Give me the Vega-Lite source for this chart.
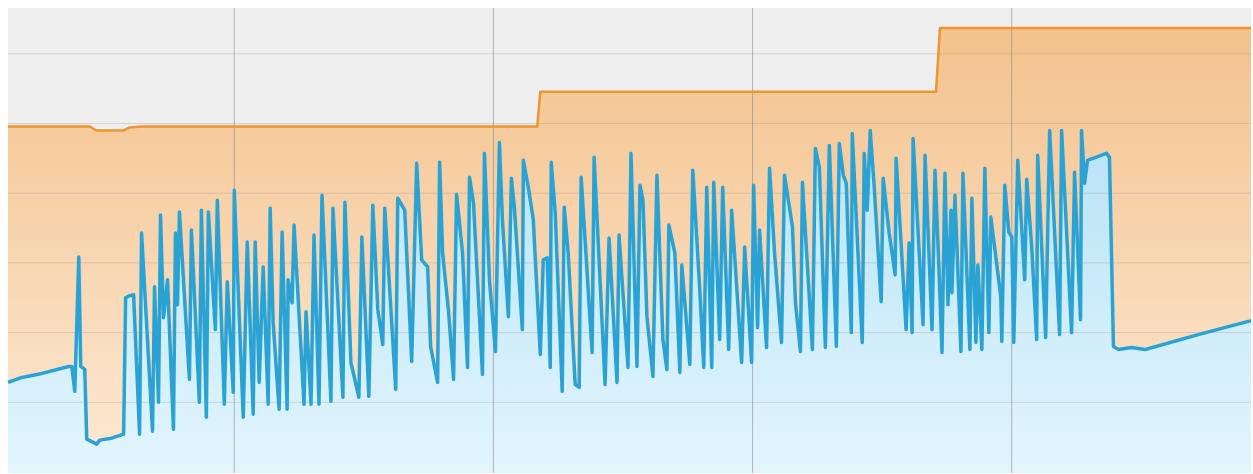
{
  "$schema": "https://vega.github.io/schema/vega-lite/v6.json",
  "width": 1253,
  "height": 474,
  "autosize": {"type": "fit", "contains": "padding"},
  "padding": {"left": 6, "top": 7, "right": 0, "bottom": 0},
  "background": "#ffffff",
  "config": {"view": {"fill": "#efefef", "stroke": null}},
  "datasets": {
    "capacity": [
      {"t": 16.5, "v": 173.5}, {"t": 57.5, "v": 173.5}, {"t": 61, "v": 171.5}, {"t": 74.5, "v": 171.5},
      {"t": 77.5, "v": 173}, {"t": 83.5, "v": 173.5}, {"t": 282, "v": 173.5}, {"t": 283.5, "v": 191},
      {"t": 482, "v": 191}, {"t": 484, "v": 223}, {"t": 640, "v": 223}
    ],
    "demand": [
      {"t": 16.5, "v": 45}, {"t": 23.5, "v": 47.5}, {"t": 33.5, "v": 49.5}, {"t": 47, "v": 53},
      {"t": 48.5, "v": 53}, {"t": 50, "v": 40.5}, {"t": 52, "v": 108}, {"t": 53, "v": 53},
      {"t": 55, "v": 51.5}, {"t": 56, "v": 16.5}, {"t": 59, "v": 15}, {"t": 61, "v": 14},
      {"t": 62.5, "v": 16}, {"t": 68.5, "v": 17}, {"t": 74.5, "v": 19}, {"t": 75.5, "v": 87.5},
      {"t": 77.5, "v": 88.5}, {"t": 79.5, "v": 89}, {"t": 82.5, "v": 19}, {"t": 83.5, "v": 120},
      {"t": 89, "v": 20.5}, {"t": 90, "v": 93}, {"t": 92, "v": 35}, {"t": 93, "v": 129},
      {"t": 94.5, "v": 77.5}, {"t": 96.5, "v": 96.5}, {"t": 99.5, "v": 21.5}, {"t": 100.5, "v": 120},
      {"t": 101.5, "v": 84}, {"t": 102.5, "v": 130.5}, {"t": 107.5, "v": 46.5}, {"t": 108.5, "v": 121.5},
      {"t": 112.5, "v": 35}, {"t": 113.5, "v": 131.5}, {"t": 116, "v": 27.5}, {"t": 117, "v": 130.5},
      {"t": 120.5, "v": 71.5}, {"t": 121.5, "v": 136.5}, {"t": 125, "v": 34}, {"t": 126.5, "v": 95.5},
      {"t": 129.5, "v": 40}, {"t": 130, "v": 141.5}, {"t": 134.5, "v": 27.5}, {"t": 136.5, "v": 115.5},
      {"t": 139.5, "v": 29}, {"t": 140.5, "v": 115.5}, {"t": 142.5, "v": 45}, {"t": 144.5, "v": 103},
      {"t": 147, "v": 34}, {"t": 148, "v": 132.5}, {"t": 149.5, "v": 75}, {"t": 152.5, "v": 31.5},
      {"t": 154, "v": 120.5}, {"t": 156.5, "v": 31.5}, {"t": 157, "v": 96.5}, {"t": 159, "v": 85},
      {"t": 160, "v": 124}, {"t": 165, "v": 34}, {"t": 166, "v": 80.5}, {"t": 168.5, "v": 34},
      {"t": 170, "v": 119}, {"t": 172.5, "v": 34}, {"t": 174, "v": 139}, {"t": 178.5, "v": 35.5},
      {"t": 179.5, "v": 132.5}, {"t": 184.5, "v": 37.5}, {"t": 185.5, "v": 135.5}, {"t": 188.5, "v": 55},
      {"t": 192.5, "v": 37.5}, {"t": 194, "v": 118}, {"t": 197.5, "v": 38}, {"t": 199.5, "v": 134},
      {"t": 202, "v": 81.5}, {"t": 204.5, "v": 64}, {"t": 205.5, "v": 132.5}, {"t": 211, "v": 41.5},
      {"t": 212, "v": 137.5}, {"t": 215.5, "v": 131.5}, {"t": 219, "v": 55.5}, {"t": 221.5, "v": 155},
      {"t": 224, "v": 106.5}, {"t": 227, "v": 103}, {"t": 228.5, "v": 63}, {"t": 232, "v": 45},
      {"t": 233, "v": 155.5}, {"t": 234.5, "v": 110}, {"t": 237.5, "v": 80.5}, {"t": 240, "v": 46.5},
      {"t": 241.5, "v": 139.5}, {"t": 244.5, "v": 110}, {"t": 247, "v": 52.5}, {"t": 248, "v": 148},
      {"t": 250, "v": 135}, {"t": 254.5, "v": 49}, {"t": 255.5, "v": 160}, {"t": 258, "v": 96.5},
      {"t": 261, "v": 60.5}, {"t": 263, "v": 165.5}, {"t": 264.5, "v": 126.5}, {"t": 267.5, "v": 78},
      {"t": 269, "v": 147.5}, {"t": 270.5, "v": 133}, {"t": 274.5, "v": 71.5}, {"t": 275, "v": 156.5},
      {"t": 277.5, "v": 143}, {"t": 280, "v": 126.5}, {"t": 283.5, "v": 59}, {"t": 285, "v": 106.5},
      {"t": 287, "v": 107.5}, {"t": 288.5, "v": 52.5}, {"t": 289, "v": 155.5}, {"t": 291, "v": 130},
      {"t": 294.5, "v": 40.5}, {"t": 295.5, "v": 133}, {"t": 297.5, "v": 110}, {"t": 301, "v": 44},
      {"t": 303, "v": 42.5}, {"t": 304, "v": 148}, {"t": 309.5, "v": 60}, {"t": 310.5, "v": 158},
      {"t": 316, "v": 44}, {"t": 318, "v": 117.5}, {"t": 322, "v": 45}, {"t": 323, "v": 119},
      {"t": 327.5, "v": 52.5}, {"t": 329, "v": 160}, {"t": 332, "v": 53}, {"t": 333.5, "v": 144},
      {"t": 335, "v": 136.5}, {"t": 337, "v": 78}, {"t": 340, "v": 48}, {"t": 342, "v": 149},
      {"t": 345, "v": 66.5}, {"t": 347, "v": 51.5}, {"t": 348, "v": 124}, {"t": 351, "v": 110},
      {"t": 353.5, "v": 50}, {"t": 354.5, "v": 104}, {"t": 358.5, "v": 54}, {"t": 360, "v": 151.5},
      {"t": 363.5, "v": 91.5}, {"t": 365.5, "v": 52.5}, {"t": 367, "v": 143}, {"t": 369.5, "v": 52.5},
      {"t": 370.5, "v": 145.5}, {"t": 373.5, "v": 66.5}, {"t": 375, "v": 143}, {"t": 378, "v": 61.5},
      {"t": 379.5, "v": 131.5}, {"t": 384.5, "v": 55}, {"t": 386, "v": 113}, {"t": 389.5, "v": 55},
      {"t": 390.5, "v": 144}, {"t": 392.5, "v": 72.5}, {"t": 393.5, "v": 121.5}, {"t": 397, "v": 62.5},
      {"t": 398.5, "v": 152.5}, {"t": 401, "v": 110}, {"t": 404.5, "v": 65}, {"t": 406, "v": 149},
      {"t": 410, "v": 123}, {"t": 411.5, "v": 85}, {"t": 414, "v": 60.5}, {"t": 415, "v": 145.5},
      {"t": 420, "v": 61.5}, {"t": 421.5, "v": 162.5}, {"t": 423.5, "v": 153}, {"t": 426.5, "v": 62.5},
      {"t": 428.5, "v": 164}, {"t": 432, "v": 63}, {"t": 433.5, "v": 165}, {"t": 435.5, "v": 149},
      {"t": 437, "v": 145}, {"t": 439.5, "v": 70}, {"t": 440, "v": 170}, {"t": 445, "v": 65},
      {"t": 446, "v": 160}, {"t": 447.5, "v": 131.5}, {"t": 449, "v": 171.5}, {"t": 451, "v": 143},
      {"t": 454.5, "v": 85.5}, {"t": 455.5, "v": 147.5}, {"t": 458.5, "v": 120}, {"t": 461.5, "v": 99},
      {"t": 462, "v": 157.5}, {"t": 467, "v": 71.5}, {"t": 468.5, "v": 115}, {"t": 470, "v": 70},
      {"t": 470.5, "v": 167.5}, {"t": 475.5, "v": 74}, {"t": 476.5, "v": 159}, {"t": 480, "v": 71.5},
      {"t": 481.5, "v": 151.5}, {"t": 483.5, "v": 101.5}, {"t": 485, "v": 60}, {"t": 486.5, "v": 150},
      {"t": 488, "v": 84}, {"t": 489.5, "v": 131.5}, {"t": 490, "v": 90}, {"t": 491.5, "v": 139},
      {"t": 494.5, "v": 60.5}, {"t": 495.5, "v": 150}, {"t": 499, "v": 61.5}, {"t": 500, "v": 137.5},
      {"t": 502, "v": 65}, {"t": 503, "v": 104}, {"t": 505, "v": 61.5}, {"t": 506.5, "v": 152.5},
      {"t": 508.5, "v": 70}, {"t": 509.5, "v": 128}, {"t": 514.5, "v": 88}, {"t": 515, "v": 65.5},
      {"t": 516.5, "v": 144}, {"t": 518.5, "v": 120.5}, {"t": 520, "v": 118}, {"t": 521, "v": 65},
      {"t": 523, "v": 156.5}, {"t": 526.5, "v": 96.5}, {"t": 527.5, "v": 147}, {"t": 530, "v": 113},
      {"t": 532.5, "v": 66.5}, {"t": 533, "v": 159}, {"t": 537, "v": 67.5}, {"t": 539, "v": 171.5},
      {"t": 544, "v": 69}, {"t": 545, "v": 171.5}, {"t": 550, "v": 70}, {"t": 551.5, "v": 150.5},
      {"t": 554.5, "v": 76.5}, {"t": 555, "v": 171.5}, {"t": 556.5, "v": 145}, {"t": 558, "v": 156.5},
      {"t": 567.5, "v": 160}, {"t": 569, "v": 158}, {"t": 571, "v": 63}, {"t": 573.5, "v": 61.5},
      {"t": 580, "v": 62.5}, {"t": 587, "v": 61.5}, {"t": 613.5, "v": 69}, {"t": 640, "v": 76}
    ],
    "xgrid": [{"t": 130}, {"t": 260}, {"t": 390}, {"t": 520}],
    "ygrid": [{"v": 35}, {"v": 70}, {"v": 105}, {"v": 140}, {"v": 175}, {"v": 210}]
  },
  "layer": [
    {
      "data": {"name": "capacity"},
      "mark": {
        "type": "area",
        "interpolate": "linear",
        "fill": {
          "gradient": "linear", "x1": 0, "y1": 0, "x2": 0, "y2": 1,
          "stops": [{"offset": 0, "color": "#f3c28c"}, {"offset": 1, "color": "#fde9d5"}]
        }
      },
      "encoding": {
        "x": {"field": "t", "type": "quantitative", "scale": {"domain": [16.5, 640], "nice": false, "zero": false}, "axis": null},
        "y": {"field": "v", "type": "quantitative", "scale": {"domain": [-0.5, 233], "nice": false, "zero": false}, "axis": null},
        "y2": {"datum": -0.5}
      }
    },
    {
      "data": {"name": "demand"},
      "mark": {
        "type": "area",
        "interpolate": "linear",
        "fill": {
          "gradient": "linear", "x1": 0, "y1": 0, "x2": 0, "y2": 1,
          "stops": [{"offset": 0, "color": "#b8e3f6"}, {"offset": 1, "color": "#e2f5fd"}]
        }
      },
      "encoding": {
        "x": {"field": "t", "type": "quantitative", "scale": {"domain": [16.5, 640], "nice": false, "zero": false}, "axis": null},
        "y": {"field": "v", "type": "quantitative", "scale": {"domain": [-0.5, 233], "nice": false, "zero": false}, "axis": null},
        "y2": {"datum": -0.5}
      }
    },
    {
      "data": {"name": "ygrid"},
      "mark": {"type": "rule", "color": "#a89c92", "opacity": 0.35, "strokeWidth": 1},
      "encoding": {
        "y": {"field": "v", "type": "quantitative", "scale": {"domain": [-0.5, 233], "nice": false, "zero": false}, "axis": null}
      }
    },
    {
      "data": {"name": "xgrid"},
      "mark": {"type": "rule", "color": "#888888", "opacity": 0.6, "strokeWidth": 1},
      "encoding": {
        "x": {"field": "t", "type": "quantitative", "scale": {"domain": [16.5, 640], "nice": false, "zero": false}, "axis": null}
      }
    },
    {
      "data": {"name": "capacity"},
      "mark": {"type": "line", "interpolate": "linear", "color": "#ee9530", "strokeWidth": 2.5, "strokeJoin": "round"},
      "encoding": {
        "x": {"field": "t", "type": "quantitative", "scale": {"domain": [16.5, 640], "nice": false, "zero": false}, "axis": null},
        "y": {"field": "v", "type": "quantitative", "scale": {"domain": [-0.5, 233], "nice": false, "zero": false}, "axis": null}
      }
    },
    {
      "data": {"name": "demand"},
      "mark": {"type": "line", "interpolate": "linear", "color": "#2aa3d4", "strokeWidth": 3.5, "strokeJoin": "round"},
      "encoding": {
        "x": {"field": "t", "type": "quantitative", "scale": {"domain": [16.5, 640], "nice": false, "zero": false}, "axis": null},
        "y": {"field": "v", "type": "quantitative", "scale": {"domain": [-0.5, 233], "nice": false, "zero": false}, "axis": null}
      }
    }
  ]
}
